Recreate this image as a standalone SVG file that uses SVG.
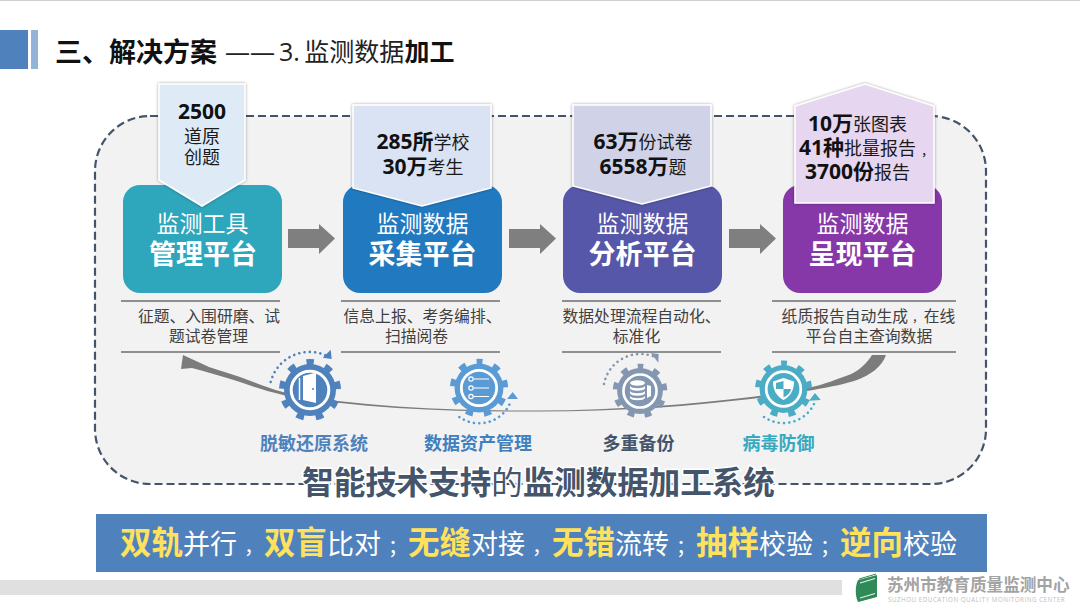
<svg xmlns="http://www.w3.org/2000/svg" xmlns:xlink="http://www.w3.org/1999/xlink" width="1080" height="609" viewBox="0 0 1080 609">
<style>
text{font-family:"Open Sans","Noto Sans CJK SC",sans-serif;}
.b{font-weight:700}
.nt{fill:#fff;text-anchor:middle;font-size:23px}
.nb{fill:#fff;text-anchor:middle;font-size:27px;font-weight:700}
.ct{fill:#1a1a1a;font-size:18px;text-anchor:middle}
.cs{fill:#1a1a1a;font-size:18px}
.big{font-size:21px;font-weight:700;fill:#111}
.d{fill:#404040;font-size:15.8px;text-anchor:middle}
.rule{stroke:#8f8f8f;stroke-width:2;fill:none}
.lab{font-size:18px;font-weight:700;text-anchor:middle}
.dots{fill:none;stroke-width:2.6;stroke-dasharray:.1 5.2;stroke-linecap:round}
.y{fill:#ffe15b;font-weight:700;font-size:31.500px}
.p{font-size:20px}
</style>
<defs>
<filter id="sh" x="-15%" y="-15%" width="130%" height="130%"><feDropShadow dx="0" dy="0" stdDeviation="1.6" flood-color="#000" flood-opacity=".4"/></filter>
<g id="gear" fill="currentColor">
<circle r="26"/>
<circle r="27.5" fill="none" stroke="currentColor" stroke-width="7" stroke-dasharray="7.5 11.7" stroke-dashoffset="3.75" transform="rotate(-90)"/>
<circle r="18.8" fill="currentColor" stroke="#fff" stroke-width="3"/>
</g>
</defs>
<rect width="1080" height="609" fill="#fff"/>
<rect width="1080" height="1" fill="#d0d0d0"/>
<g id="header">
<rect x="0" y="30" width="28" height="39" fill="#4f81bd"/>
<rect x="31" y="30" width="7" height="39" fill="#95b3d7"/>
<text x="55" y="62" font-size="27" class="b" fill="#111">三、解决方案</text>
<text x="225" y="61" font-size="25" fill="#222">——<tspan dx="4">3.</tspan><tspan dx="-2"> 监测数据</tspan><tspan class="b" fill="#111">加工</tspan></text>
</g>
<rect id="panel" x="95" y="116" width="891" height="368" rx="55" ry="55" fill="#f2f2f2" stroke="#44546a" stroke-width="2.200" stroke-dasharray="8 4"/>

<g id="connectors">
<path id="arrow-1" d="M288 229H319V224L335 238.500 319 254V248H288Z" fill="#7f7f7f"/>
<path id="arrow-2" d="M509 229H540V224L556 238.500 540 254V248H509Z" fill="#7f7f7f"/>
<path id="arrow-3" d="M729 229H760V224L776 238.500 760 254V248H729Z" fill="#7f7f7f"/>
<path id="return-arrow" d="M872 355C867 363 860 370 850 374.500C835 380 825 384 813 386.700C793 391 773 394 753 396.700C721 400.500 689 404 657 406C618 408.700 579 410.500 540 410.500C512 410.500 485 410.300 457 409.500C417 408 377 405.500 338 401C319 398.500 301 396 283 392C268 388 254 382 240 377C230 373.500 219 370.500 209 367L183 355 181 369 192 368C208 372 224 377 240 382C254 387 268 391.500 283 395C301 398.500 319 400.500 338 402.700C377 407 417 409.500 457 410.700C485 411.500 512 411.700 540 411.500C579 411.300 618 410 657 407.700C689 405.500 721 402 753 398.700C773 396 793 393.500 813 390C830 387 845 384 857 380C870 375 882 367 886 355Z" fill="#7c7c7c"/>
</g>

<g id="node-1">
<rect x="123" y="185" width="159" height="108" rx="17" fill="#2ea6bb"/>
<text class="nt" x="202.500" y="232">监测工具</text>
<text class="nb" x="203" y="264">管理平台</text>
<path d="M159 84H245V180L202 206 159 180Z" fill="#deebf7" stroke="#fff" stroke-width="1.500" filter="url(#sh)"/>
<text class="big" x="202" y="119" text-anchor="middle">2500</text>
<text class="ct" x="202" y="143">道原</text>
<text class="ct" x="202" y="164">创题</text>
<path class="rule" d="M121 301H280M121 352H280"/>
<text class="d" x="209" y="322">征题、入围研磨、试</text>
<text class="d" x="208.500" y="342">题试卷管理</text>
</g>

<g id="node-2">
<rect x="343" y="185" width="159" height="108" rx="17" fill="#217ac0"/>
<text class="nt" x="422.500" y="232">监测数据</text>
<text class="nb" x="422.500" y="264">采集平台</text>
<path d="M353 105H491V188L422 206 353 188Z" fill="#dae3f3" stroke="#fff" stroke-width="1.500" filter="url(#sh)"/>
<text x="423" y="149" text-anchor="middle" class="cs"><tspan class="big">285所</tspan>学校</text>
<text x="423" y="174" text-anchor="middle" class="cs"><tspan class="big">30万</tspan>考生</text>
<path class="rule" d="M341 301H500M341 352H500"/>
<text class="d" x="422.500" y="322">信息上报、考务编排、</text>
<text class="d" x="416.500" y="342">扫描阅卷</text>
</g>

<g id="node-3">
<rect x="563" y="185" width="159" height="108" rx="17" fill="#5657a8"/>
<text class="nt" x="642.500" y="232">监测数据</text>
<text class="nb" x="642.500" y="264">分析平台</text>
<path d="M573 105H711V186L642 204 573 186Z" fill="#d0d2e8" stroke="#fff" stroke-width="1.500" filter="url(#sh)"/>
<text x="643" y="149" text-anchor="middle" class="cs"><tspan class="big">63万</tspan>份试卷</text>
<text x="643" y="174" text-anchor="middle" class="cs"><tspan class="big">6558万</tspan>题</text>
<path class="rule" d="M562 301H721M562 352H721"/>
<text class="d" x="641.500" y="322">数据处理流程自动化、</text>
<text class="d" x="636.500" y="342">标准化</text>
</g>

<g id="node-4">
<rect x="783" y="185" width="159" height="108" rx="17" fill="#8738a8"/>
<text class="nt" x="862.500" y="232">监测数据</text>
<text class="nb" x="862.500" y="264">呈现平台</text>
<path d="M795 106L865 84 934 106V203H795Z" fill="#e6d6f0" stroke="#fff" stroke-width="1.500" filter="url(#sh)"/>
<text x="808" y="131" class="cs"><tspan class="big">10万</tspan>张图表</text>
<text x="799" y="155" class="cs"><tspan class="big">41种</tspan>批量报告<tspan dx="5" font-size="13">，</tspan></text>
<text x="805" y="179" class="cs"><tspan class="big">3700份</tspan>报告</text>
<path class="rule" d="M772 301H956M772 352H956"/>
<text class="d" x="868.500" y="322">纸质报告自动生成<tspan dx="4" font-size="11.800">，</tspan>在线</text>
<text class="d" x="869" y="342">平台自主查询数据</text>
</g>

<g id="system-1">
<use href="#gear" xlink:href="#gear" x="310" y="390" style="color:#4f81bd"/>
<path d="M303 376L316 372.500V403L303 400Z" fill="#fff"/>
<path d="M299.500 378V400" stroke="#fff" stroke-width="1.500"/>
<circle cx="313" cy="389" r="1" fill="#4f81bd"/>
<path class="dots" d="M270.700 382A40 40 0 0 1 326 355.500" stroke="#4f81bd"/>
<path d="M322.700 357.700L330.700 349.700 331.700 359Z" fill="#4f81bd"/>
<text class="lab" x="314" y="450" fill="#4f81bd">脱敏还原系统</text>
</g>

<g id="system-2">
<g transform="translate(479 388) scale(.94)" style="color:#5b9bd5"><use href="#gear" xlink:href="#gear"/></g>
<g stroke="#fff" stroke-width="1.200" fill="none">
<path d="M473.500 379H489M473.500 388H489M473.500 396.500H489"/>
<circle cx="471" cy="379" r="2.200"/><circle cx="471" cy="388" r="2.200"/><circle cx="471" cy="396.500" r="2.200"/>
</g>
<path class="dots" d="M459.300 417A34 34 0 0 0 510.700 401.700" stroke="#5b9bd5"/>
<path d="M507 399L512.700 392 518 399Z" fill="#5b9bd5"/>
<text class="lab" x="478" y="450" fill="#3f80bf">数据资产管理</text>
</g>

<g id="system-3">
<g transform="translate(640 391) scale(.88)" style="color:#8497b0"><use href="#gear" xlink:href="#gear"/></g>
<g fill="#fff">
<ellipse cx="637.500" cy="383" rx="7.500" ry="2.800"/>
<path d="M630 386C631.500 389 643.500 389 645 386V388.500C643.500 391.500 631.500 391.500 630 388.500Z"/>
<path d="M630 391C631.500 394 643.500 394 645 391V393.500C643.500 396.500 631.500 396.500 630 393.500Z"/>
<path d="M630 396C631.500 399 643.500 399 645 396V398C643.500 401 631.500 401 630 398Z"/>
<path d="M647 385L651 386V396L647 398Z"/>
</g>
<path class="dots" d="M604 384A37 37 0 0 1 655 357" stroke="#8497b0"/>
<path d="M650.700 353L658.700 354 658.300 362.700Z" fill="#8497b0"/>
<text class="lab" x="638.500" y="450" fill="#44546a">多重备份</text>
</g>

<g id="system-4">
<g transform="translate(783.500 389) scale(.92)" style="color:#4bacc6"><use href="#gear" xlink:href="#gear"/></g>
<path d="M783.500 378L794 381.500C794 390 790.500 396.500 783.500 400 776.500 396.500 773 390 773 381.500Z" fill="#fff"/>
<path d="M783.500 389H776V383L783.500 381ZM783.500 389H791C790.500 392.500 788 395.500 783.500 397.500Z" fill="#4bacc6"/>
<path class="dots" d="M764 417A34 34 0 0 0 815 401.700" stroke="#4bacc6"/>
<path d="M809 400.700L815 393 820.700 400Z" fill="#4bacc6"/>
<text class="lab" x="778.500" y="450" fill="#36a9bf">病毒防御</text>
</g>

<text id="system-title" x="538.500" y="494" text-anchor="middle" font-size="31.500" fill="#44546a" stroke="#fff" stroke-width="3" paint-order="stroke"><tspan class="b">智能技术支持</tspan>的<tspan class="b">监测数据加工系统</tspan></text>

<g id="banner">
<rect x="96" y="514" width="891" height="58" fill="#4f81bd"/>
<text x="120" y="554" font-size="27" fill="#fff"><tspan class="y">双轨</tspan>并行<tspan class="p" dx="7">，</tspan><tspan class="y">双盲</tspan>比对<tspan class="p" dx="7">；</tspan><tspan class="y">无缝</tspan>对接<tspan class="p" dx="7">，</tspan><tspan class="y">无错</tspan>流转<tspan class="p" dx="7">；</tspan><tspan class="y">抽样</tspan>校验<tspan class="p" dx="7">；</tspan><tspan class="y">逆向</tspan>校验</text>
</g>

<g id="footer">
<rect x="0" y="580" width="842" height="15" fill="#e0e0e0"/>
<path d="M858 580L877 575V597L858 602C855 596 855 586 858 580Z" fill="#2f8a57"/>
<path d="M859 579L876 574M859 601L876 596" stroke="#2f8a57" stroke-width="1" fill="none"/>
<path d="M860 583L875 578.500M860 598L875 593.500" stroke="#e6f2ea" stroke-width="1.200" fill="none"/>
<text x="887" y="590.500" font-size="16.600" class="b" fill="#a3a3a3">苏州市教育质量监测中心</text>
<text x="888" y="601.500" font-size="6.200" fill="#bdbdbd" letter-spacing=".55">SUZHOU EDUCATION QUALITY MONITORING CENTER</text>
</g>
</svg>
